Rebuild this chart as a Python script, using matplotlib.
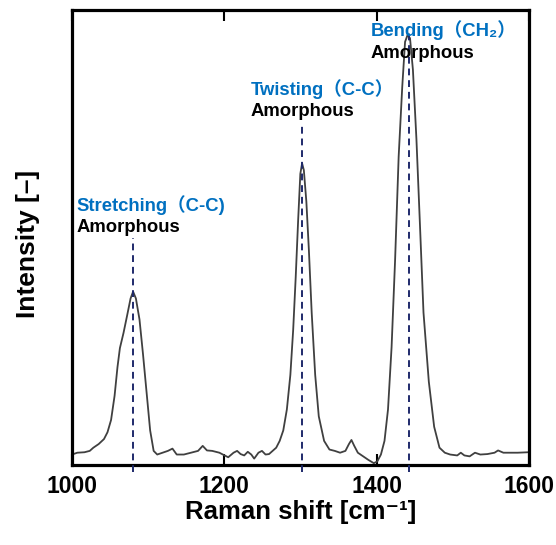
import matplotlib
matplotlib.use("Agg")
import matplotlib.pyplot as plt

# Raman spectrum (wavenumber cm-1, intensity a.u.)
shift = [1000.0, 1007.0, 1016.3, 1023.3, 1028.0, 1035.0, 1042.0, 1046.6, 1051.3, 1055.9,
         1059.7, 1062.9, 1067.6, 1072.3, 1076.9, 1080.2, 1083.9, 1088.6, 1093.2, 1097.9,
         1102.6, 1107.2, 1111.9, 1118.9, 1125.9, 1131.9, 1137.5, 1146.9, 1156.2, 1165.5,
         1171.6, 1177.2, 1184.1, 1193.5, 1198.1, 1205.1, 1212.1, 1216.8, 1221.4, 1226.1,
         1230.8, 1235.4, 1239.2, 1244.8, 1249.4, 1254.1, 1258.7, 1263.4, 1268.1, 1272.7,
         1277.4, 1282.1, 1286.7, 1290.4, 1293.7, 1297.0, 1299.8, 1302.1, 1304.4, 1307.7,
         1311.0, 1314.7, 1319.3, 1324.0, 1331.0, 1338.0, 1345.0, 1352.0, 1359.0, 1363.6,
         1366.9, 1370.6, 1375.3, 1382.3, 1389.3, 1396.3, 1400.9, 1405.6, 1410.3, 1414.9,
         1419.6, 1424.2, 1428.9, 1433.6, 1437.3, 1440.6, 1443.8, 1447.6, 1452.2, 1456.9,
         1461.5, 1468.5, 1475.5, 1482.5, 1489.5, 1496.5, 1505.8, 1510.5, 1515.2, 1522.1,
         1529.1, 1536.1, 1545.4, 1554.8, 1559.4, 1566.4, 1575.7, 1585.1, 1599.1]
intensity = [2.3, 2.7, 2.8, 3.1, 3.8, 4.6, 5.7, 7.2, 9.9, 15.2,
             21.5, 25.7, 29.0, 32.8, 36.6, 38.1, 36.6, 32.0, 24.4, 16.0,
             7.6, 3.1, 2.3, 2.7, 3.1, 3.6, 2.3, 2.3, 2.7, 3.1,
             4.2, 3.2, 3.1, 2.7, 2.3, 1.7, 2.7, 3.1, 2.4, 2.1,
             2.9, 2.3, 1.4, 2.7, 3.1, 2.3, 2.4, 3.1, 3.8, 5.3,
             7.6, 12.2, 19.8, 29.7, 41.2, 54.1, 64.0, 66.3, 64.8, 57.9,
             47.3, 33.5, 19.8, 10.7, 5.3, 3.4, 3.1, 2.7, 3.1, 4.6,
             5.5, 4.2, 2.7, 1.9, 1.1, 0.4, 0.8, 2.3, 5.3, 12.2,
             25.9, 45.0, 67.8, 83.1, 93.0, 94.5, 93.8, 86.9, 71.7, 52.6,
             33.5, 18.3, 8.4, 3.8, 2.7, 2.3, 2.1, 2.7, 2.1, 1.9,
             2.7, 2.3, 2.4, 2.7, 3.2, 2.7, 2.7, 2.7, 2.8]

# peak markers
peak_pos = [1080, 1302, 1443]
peak_top = [49.9, 74.7, 95.0]
mode_names = ["Stretching（C-C)", "Twisting（C-C）", "Bending（CH₂）"]
label_x = [1006, 1235, 1392]
label_y = [57.2, 82.7, 95.5]

fam = ["Liberation Sans", "DejaVu Sans", "Noto Sans CJK SC"]
blue = "#0070C0"

fig = plt.figure(figsize=(5.56, 5.45), dpi=100)
ax = fig.add_axes([0.1295, 0.1468, 0.8219, 0.8349])

ax.plot(shift, intensity, color="#404040", linewidth=1.3)

for p, t in zip(peak_pos, peak_top):
    ax.plot([p, p], [-1.6, t], color="#1f2a6b", linewidth=1.4,
            linestyle=(0, (3.5, 2.5)), clip_on=False, zorder=3)

for name, x, y in zip(mode_names, label_x, label_y):
    ax.text(x, y, name, color=blue, fontsize=13.3, fontweight="bold",
            family=fam, ha="left", va="center")
    ax.text(x, y - 5.0, "Amorphous", color="black", fontsize=13.3,
            fontweight="bold", family=fam, ha="left", va="center")

ax.set_xlim(1000, 1600)
ax.set_ylim(0, 100)
ax.set_xticks([1000, 1200, 1400, 1600])
ax.set_yticks([])
ax.tick_params(axis="x", direction="in", top=True, length=8, width=1.5, pad=7)
for lbl in ax.get_xticklabels():
    lbl.set_fontfamily(fam)
    lbl.set_fontweight("bold")
    lbl.set_fontsize(16.5)
for sp in ax.spines.values():
    sp.set_linewidth(2.3)

ax.set_xlabel("Raman shift [cm⁻¹]", fontsize=18.5, fontweight="bold",
              family=fam, labelpad=2)
ax.set_ylabel("Intensity [–]", fontsize=19, fontweight="bold", family=fam)
ax.yaxis.set_label_coords(-0.07, 0.486)

fig.savefig("out.png", dpi=100)
